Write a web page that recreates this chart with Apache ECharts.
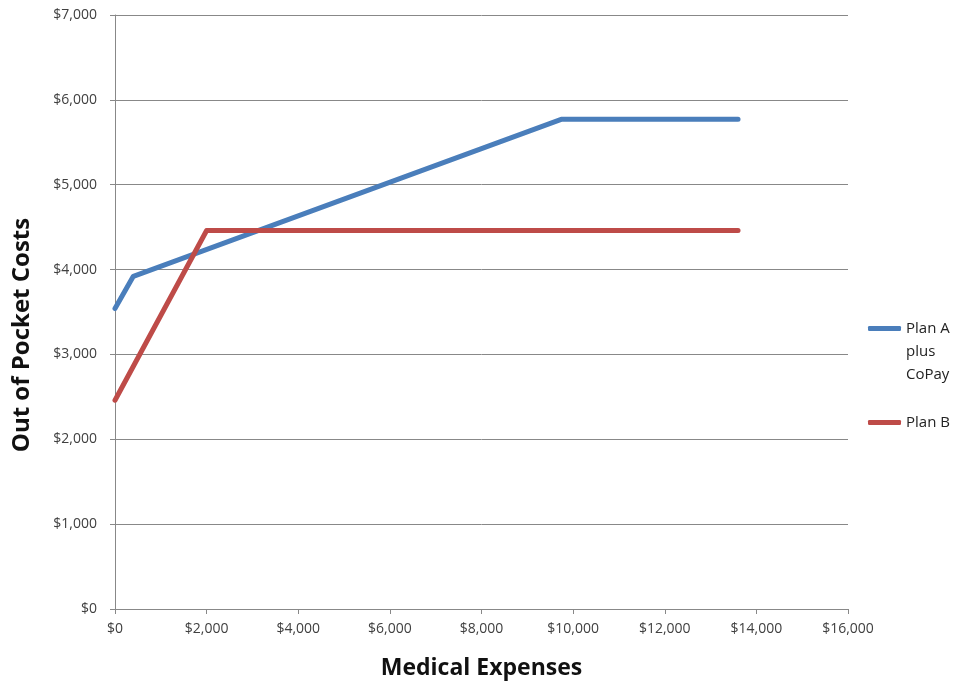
<!DOCTYPE html>
<html>
<head>
<meta charset="utf-8">
<script src="https://cdn.jsdelivr.net/npm/echarts@6/dist/echarts.min.js"></script>
<style>
  html, body { margin: 0; padding: 0; background: #fff; }
  #chart { width: 955px; height: 685px; }
</style>
</head>
<body>
<div id="chart"></div>
<script>
// medical expenses (x) and out of pocket costs (y)
const planAX = [0, 400, 9740, 13600];
const planAY = [3540, 3920, 5770, 5770];
const planBX = [0, 2000, 13600];
const planBY = [2460, 4460, 4460];
const seriesNames = ['Plan A plus CoPay', 'Plan B'];
const legendLabels = { 'Plan A plus CoPay': '\n\nPlan A\nplus\nCoPay', 'Plan B': 'Plan B' };

const gray = '#888';
const labelColor = '#404040';
const font = 'Open Sans';
const money = v => '$' + v.toLocaleString('en-US');
const pairs = (xs, ys) => xs.map((x, i) => [x, ys[i]]);

const chart = echarts.init(document.getElementById('chart'));
chart.setOption({
  animation: false,
  color: ['#4A7EBB', '#BE4B48'],
  grid: { left: 115, right: 107, top: 15, bottom: 76, containLabel: false },
  legend: {
    orient: 'vertical',
    left: 863,
    top: 266,
    icon: 'roundRect',
    itemWidth: 33,
    itemHeight: 5,
    itemGap: 25,
    data: seriesNames,
    formatter: n => legendLabels[n],
    textStyle: { fontFamily: font, fontSize: 15, lineHeight: 23, color: '#222' }
  },
  xAxis: {
    type: 'value', min: 0, max: 16000, interval: 2000,
    name: 'Medical Expenses', nameLocation: 'middle', nameGap: 48,
    nameTextStyle: { fontFamily: font, fontSize: 23, fontWeight: 'bold', color: '#111' },
    axisLine: { show: true, lineStyle: { color: gray } },
    axisTick: { show: true, length: 5, lineStyle: { color: gray } },
    axisLabel: { margin: 13, formatter: money, fontFamily: font, fontSize: 14, color: labelColor },
    splitLine: { show: false }
  },
  yAxis: {
    type: 'value', min: 0, max: 7000, interval: 1000,
    axisLine: { show: true, lineStyle: { color: gray } },
    axisTick: { show: true, length: 5, lineStyle: { color: gray } },
    axisLabel: { margin: 18, formatter: money, fontFamily: font, fontSize: 14, color: labelColor },
    splitLine: { show: true, lineStyle: { color: gray, width: 1 } }
  },
  graphic: [{
    type: 'text', x: 22, y: 335, rotation: Math.PI / 2,
    style: { text: 'Out of Pocket Costs', align: 'center', verticalAlign: 'middle',
      fontFamily: font, fontSize: 24, fontWeight: 'bold', fill: '#111' }
  }],
  series: [
    { name: seriesNames[0], type: 'line', data: pairs(planAX, planAY), showSymbol: false,
      lineStyle: { width: 5, cap: 'round', join: 'round' } },
    { name: seriesNames[1], type: 'line', data: pairs(planBX, planBY), showSymbol: false,
      lineStyle: { width: 5, cap: 'round', join: 'round' } }
  ]
});
</script>
</body>
</html>
